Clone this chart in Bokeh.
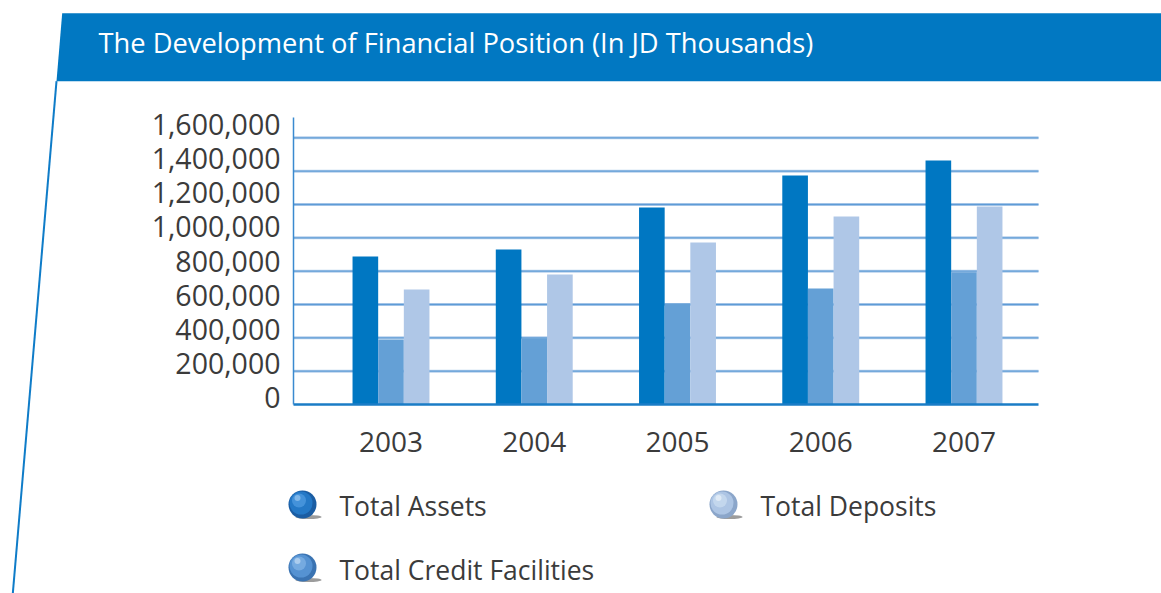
from bokeh.plotting import figure
from bokeh.models import (Range1d, LinearAxis, FixedTicker, NumeralTickFormatter, Label,
                          PolyAnnotation, ColumnDataSource)
from bokeh.embed import file_html
from bokeh.resources import INLINE

# ---------------- data ----------------
years = ["2003", "2004", "2005", "2006", "2007"]
total_assets = [888000, 930000, 1182000, 1374000, 1464000]
total_credit_facilities = [390000, 398000, 606000, 696000, 794000]
total_deposits = [690000, 780000, 972000, 1128000, 1188000]
y_ticks = [0, 200000, 400000, 600000, 800000, 1000000, 1200000, 1400000, 1600000]
series_names = ["Total Assets", "Total Credit Facilities", "Total Deposits"]
title_text = "The Development of Financial Position (In JD Thousands)"

# ---------------- style / layout ----------------
FONT = "Open Sans"
C_ASSETS = "#0077c2"
C_CREDIT = "#64a0d6"
C_DEPOS = "#afc7e7"
BANNER = "#0178c2"
TXT = "#3b3b3b"

# sphere shading per series: edge, body, light, highlight
SPHERE = {
    "Total Assets": ["#1b5da3", "#2478c6", "#4f9be0", "#a9d1f3"],
    "Total Credit Facilities": ["#3a73b2", "#5592d2", "#80b2e4", "#cfe3f6"],
    "Total Deposits": ["#8ba6ca", "#adc5e4", "#cbdcf0", "#f1f6fc"],
}
# legend layout (pixels): sphere centre and text start
LEG_POS = {
    "Total Assets": (302, 504, 339, 505),
    "Total Credit Facilities": (302, 567, 339, 569),
    "Total Deposits": (723, 504, 760, 505),
}

W, H = 1161, 593
AX_L, AX_R, AX_T, AX_B = 293, 1038, 117, 404
PX_PER_CAT = 143.25
FIRST_CAT_PX = 390.5
VAL_PER_PX = 6000.0

X_LEFT = (AX_L - FIRST_CAT_PX) / PX_PER_CAT
X_RIGHT = (AX_R - FIRST_CAT_PX) / PX_PER_CAT
x_start = X_LEFT - AX_L / PX_PER_CAT
x_end = X_LEFT + (W - AX_L) / PX_PER_CAT
y_start = -(H - AX_B) * VAL_PER_PX
y_end = AX_B * VAL_PER_PX


def dx(px):
    return x_start + px / PX_PER_CAT


def dy(py):
    return y_end - py * VAL_PER_PX


idx = list(range(len(years)))
bw = 0.179

p = figure(width=W, height=H, output_backend="svg", toolbar_location=None,
           x_range=Range1d(x_start, x_end), y_range=Range1d(y_start, y_end),
           y_axis_location=None, min_border=0)
p.outline_line_color = None
p.background_fill_color = "white"
p.border_fill_color = "white"
p.xgrid.visible = False
p.ygrid.visible = False

# grid lines inside the plot area
p.segment(x0=X_LEFT, x1=X_RIGHT, y0=y_ticks[1:], y1=y_ticks[1:],
          line_color="#b8d1ec", line_width=3)
p.segment(x0=X_LEFT, x1=X_RIGHT, y0=y_ticks[1:], y1=y_ticks[1:],
          line_color="#5e9bd6", line_width=1.3)

src = ColumnDataSource(dict(
    xa=[i - bw for i in idx], xc=idx, xd=[i + bw for i in idx],
    assets=total_assets, credit=total_credit_facilities, deposits=total_deposits))

p.vbar(x="xa", top="assets", width=bw, bottom=0, source=src,
       fill_color=C_ASSETS, line_color=None)
p.vbar(x="xc", top="credit", width=bw, bottom=0, source=src,
       fill_color=C_CREDIT, line_color=None)
p.vbar(x="xd", top="deposits", width=bw, bottom=0, source=src,
       fill_color=C_DEPOS, line_color=None)

# x axis
xa = p.xaxis[0]
xa.fixed_location = 0
xa.bounds = (X_LEFT, X_RIGHT)
xa.ticker = FixedTicker(ticks=idx)
xa.major_label_overrides = {i: y for i, y in zip(idx, years)}
xa.major_tick_in = 0
xa.major_tick_out = 0
xa.minor_tick_line_color = None
xa.axis_line_color = "#1a7cc6"
xa.axis_line_width = 2.5
xa.major_label_text_font = FONT
xa.major_label_text_font_size = "28px"
xa.major_label_text_color = TXT
xa.major_label_standoff = 27

# y axis (labels sit a little above their grid lines, as in the original)
LAB0 = -7 / 273 * y_ticks[-1]
LAB1 = (AX_B - 7 - AX_T) / 273 * y_ticks[-1]
lab_per_px = (LAB1 - LAB0) / (AX_B - AX_T)
p.extra_y_ranges = {"lab": Range1d(LAB0 - (H - AX_B) * lab_per_px, LAB1 + AX_T * lab_per_px)}
ya = LinearAxis(y_range_name="lab", ticker=FixedTicker(ticks=y_ticks),
                formatter=NumeralTickFormatter(format="0,0"))
ya.fixed_location = X_LEFT
ya.bounds = (LAB0, LAB1)
ya.major_tick_in = 0
ya.major_tick_out = 0
ya.minor_tick_line_color = None
ya.axis_line_color = "#3a8ad0"
ya.axis_line_width = 1.5
ya.major_label_text_font = FONT
ya.major_label_text_font_size = "28.5px"
ya.major_label_text_color = TXT
ya.major_label_standoff = 13
p.add_layout(ya, "left")

# legend: shaded spheres + labels
for name in series_names:
    cx, cy, tx, ty = LEG_POS[name]
    c0, c1, c2, c3 = SPHERE[name]
    p.ellipse(x=dx(cx + 6), y=dy(cy + 12.5), width=26, height=4,
              width_units="screen", height_units="screen",
              fill_color="#3a3a3a", fill_alpha=0.5, line_color=None)
    p.scatter(x=dx(cx), y=dy(cy), size=28, marker="circle", fill_color=c0, line_color=None)
    p.scatter(x=dx(cx - 1.5), y=dy(cy - 1.5), size=23, marker="circle", fill_color=c1, line_color=None)
    p.scatter(x=dx(cx - 3.5), y=dy(cy - 4), size=14, marker="circle", fill_color=c2,
              fill_alpha=0.75, line_color=None)
    p.scatter(x=dx(cx - 5), y=dy(cy - 6.5), size=6, marker="circle", fill_color=c3,
              fill_alpha=0.6, line_color=None)
    p.add_layout(Label(x=tx, y=ty, x_units="canvas", y_units="canvas", text=name,
                       text_color=TXT, text_font=FONT, text_font_size="26.5px",
                       text_baseline="middle"))

# banner + slanted rule
p.add_layout(PolyAnnotation(xs=[61.7, W, W, 56.0], ys=[12.7, 12.7, 80.7, 80.7],
                            xs_units="canvas", ys_units="canvas",
                            fill_color=BANNER, fill_alpha=1, line_color=None))
p.add_layout(PolyAnnotation(xs=[56.0, 12.3], ys=[80.7, 593],
                            xs_units="canvas", ys_units="canvas",
                            fill_alpha=0, line_color="#0f7cc8", line_alpha=1, line_width=2))
p.add_layout(Label(x=98, y=42, x_units="canvas", y_units="canvas", text=title_text,
                   text_color="white", text_font=FONT, text_font_size="27.3px",
                   text_baseline="alphabetic"))

open("out.html", "w").write(file_html(p, INLINE))
